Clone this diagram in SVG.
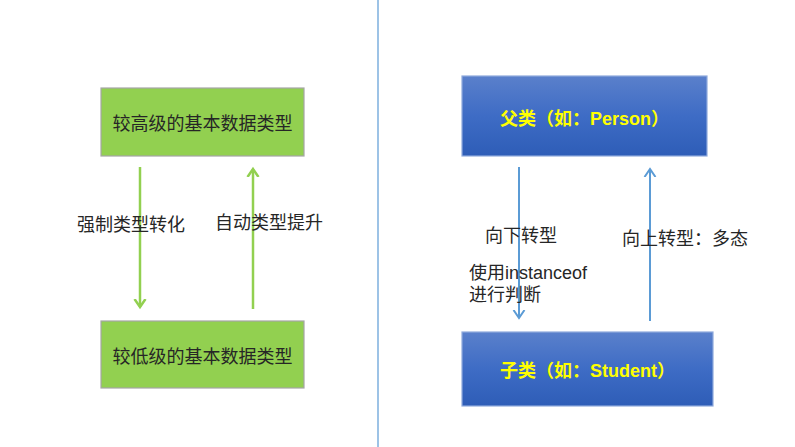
<svg xmlns="http://www.w3.org/2000/svg" width="795" height="447" viewBox="0 0 795 447">
<style>
text{font-family:"Liberation Sans","Noto Sans CJK SC",sans-serif;font-size:18px;fill:#262626}
.green{fill:#92D050;stroke:#A6A6A6;stroke-width:1.2}
.blue{fill:url(#bg);stroke:#8FAADC;stroke-width:1.2}
.ytxt{fill:#FFFF00;font-weight:bold}
.gline{stroke:#92D050;stroke-width:2.5;fill:none}
.bline{stroke:#5B9BD5;stroke-width:2;fill:none}
</style>
<defs>
<linearGradient id="bg" x1="0" y1="0" x2="0" y2="1">
<stop offset="0" stop-color="#5A80CB"/>
<stop offset="0.5" stop-color="#3E6CC5"/>
<stop offset="1" stop-color="#2E5DB7"/>
</linearGradient>
<marker id="ag" markerUnits="userSpaceOnUse" markerWidth="16" markerHeight="16" refX="8" refY="8" orient="auto">
<polyline points="0,2.5 8,8 0,13.5" fill="none" stroke="#92D050" stroke-width="2.5"/>
</marker>
<marker id="ab" markerUnits="userSpaceOnUse" markerWidth="16" markerHeight="16" refX="8" refY="8" orient="auto">
<polyline points="0,2.5 8,8 0,13.5" fill="none" stroke="#5B9BD5" stroke-width="2"/>
</marker>
</defs>
<rect width="795" height="447" fill="#FFFFFF"/>
<line x1="378" y1="0" x2="378" y2="447" stroke="#9DC3E6" stroke-width="2"/>
<g id="high">
<rect class="green" x="101" y="88" width="203" height="68"/>
<text x="202.5" y="130" text-anchor="middle">较高级的基本数据类型</text>
</g>
<g id="low">
<rect class="green" x="101" y="321" width="203" height="67"/>
<text x="202.5" y="363" text-anchor="middle">较低级的基本数据类型</text>
</g>
<g id="parent">
<rect class="blue" x="462" y="76" width="245" height="80"/>
<text class="ytxt" x="500" y="125">父类（如：Person）</text>
</g>
<g id="child">
<rect class="blue" x="462" y="332" width="251" height="74"/>
<text class="ytxt" x="500" y="377">子类（如：Student）</text>
</g>
<g id="connectors">
<line class="gline" x1="140" y1="167" x2="140" y2="307" marker-end="url(#ag)"/>
<line class="gline" x1="253" y1="309" x2="253" y2="169" marker-end="url(#ag)"/>
<line class="bline" x1="519" y1="167" x2="519" y2="318" marker-end="url(#ab)"/>
<line class="bline" x1="650" y1="321" x2="650" y2="169" marker-end="url(#ab)"/>
</g>
<g id="labels">
<text x="77" y="231">强制类型转化</text>
<text x="215" y="229">自动类型提升</text>
<text x="485" y="242">向下转型</text>
<text x="469" y="279">使用instanceof</text>
<text x="469" y="301">进行判断</text>
<text x="622" y="245">向上转型：多态</text>
</g>
</svg>
